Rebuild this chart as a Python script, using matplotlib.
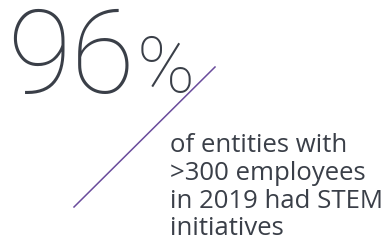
import matplotlib.pyplot as plt
import matplotlib as mpl

# figure content
stat_value = "96"
stat_unit = "%"
caption_lines = ["of entities with", ">300 employees", "in 2019 had STEM", "initiatives"]

text_color = "#3a3f48"
line_color = "#6a4c9c"

fig = plt.figure(figsize=(3.85, 2.4), dpi=100)
ax = fig.add_axes([0, 0, 1, 1])
ax.set_xlim(0, 385)
ax.set_ylim(240, 0)
ax.axis("off")

# big number
ax.text(7, 93, stat_value, fontsize=84, family="Roboto", fontweight="light",
        color=text_color, va="baseline", ha="left")
ax.text(137, 92, stat_unit, fontsize=56, family="Roboto", fontweight="light",
        color=text_color, va="baseline", ha="left")

# diagonal divider
ax.plot([74, 215], [207, 67], color=line_color, lw=1.1)

# caption
for i, line in enumerate(caption_lines):
    ax.text(170, 152 + i * 27.8, line, fontsize=18.5, family="Open Sans",
            color=text_color, va="baseline", ha="left")

fig.savefig("out.png", dpi=100)
